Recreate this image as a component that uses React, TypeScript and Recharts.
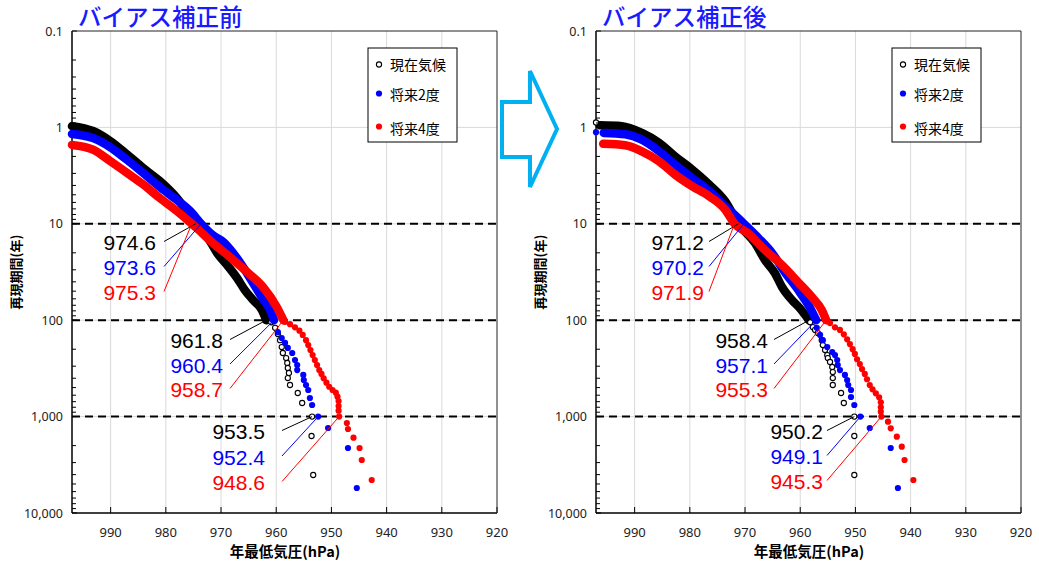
import React from 'react';
import { ScatterChart, Scatter, XAxis, YAxis, CartesianGrid } from 'recharts';

// [年最低気圧 hPa, 再現期間 年]
type Pt = [number, number];

const THRESHOLDS = [10, 100, 1000];
const X_DOMAIN: [number, number] = [920, 997];
const X_TICKS = [990, 980, 970, 960, 950, 940, 930, 920];
const GRID_X = [990, 980, 970, 960, 950, 940, 930];
const DECADES = [0.1, 1, 10, 100, 1000, 10000];

// ---- バイアス補正前 ----
const presentBandBefore: Pt[] = [
    [997.0, 0.97], [993.2, 1.09], [990.1, 1.38], [987.0, 1.91], [984.1, 2.64], [981.1, 3.6],
    [978.0, 5.4], [974.6, 10], [972.0, 15.1], [970.7, 20.1], [968.9, 26.8], [967.1, 36.5],
    [965.7, 48.6], [964.2, 61.7], [962.6, 78.4], [961.8, 100],
];
const presentDotsBefore: Pt[] = [
    [960.9, 105], [960.2, 120], [959.7, 139], [959.3, 161], [959.0, 190], [958.8, 219],
    [958.2, 247], [958.0, 278], [957.9, 313], [957.7, 353], [957.9, 398], [957.5, 470],
    [956.1, 569], [955.3, 723], [953.5, 1000], [953.6, 1589], [953.3, 4035],
];
const plus2BandBefore: Pt[] = [
    [997.0, 1.17], [993.2, 1.29], [990.1, 1.6], [987.0, 2.18], [984.1, 2.97], [981.1, 4.15],
    [978.0, 5.66], [975.6, 7.37], [973.6, 10], [971.5, 13.1], [969.6, 15.4], [967.8, 20.1],
    [966.0, 28.1], [964.2, 41.1], [962.4, 60.3], [961.1, 78.4], [960.4, 100],
];
const plus2DotsBefore: Pt[] = [
    [959.7, 133], [959.0, 153], [958.4, 172], [957.9, 194], [957.1, 219], [956.6, 259],
    [956.2, 292], [956.2, 329], [955.1, 370], [955.0, 417], [954.6, 470], [954.2, 530],
    [953.9, 641], [953.5, 758], [952.4, 1000], [950.6, 1313], [947.0, 2117], [945.4, 5505],
];
const plus4BandBefore: Pt[] = [
    [997.0, 1.52], [993.2, 1.7], [990.1, 2.23], [987.0, 2.97], [984.1, 3.91], [981.1, 5.4],
    [978.0, 7.37], [975.3, 10], [974.4, 11.1], [971.5, 15.8], [968.4, 22.1], [965.3, 31.6],
    [962.4, 45.2], [959.9, 73.0], [958.7, 100],
];
const plus4DotsBefore: Pt[] = [
    [958.4, 104], [957.5, 110], [956.6, 118.5], [955.8, 128.5], [955.2, 142], [954.6, 161],
    [954.2, 181], [953.8, 204], [953.4, 230], [953.0, 259], [952.6, 292], [952.2, 329],
    [951.8, 361], [951.4, 400], [950.9, 445], [950.4, 490], [949.8, 530], [949.2, 565],
    [948.9, 622], [948.7, 689], [948.7, 776], [948.7, 869], [948.6, 1000], [947.2, 1165],
    [947.0, 1345], [946.0, 1656], [944.9, 2117], [944.5, 2820], [942.7, 4547],
];

// ---- バイアス補正後 ----
const presentBandAfter: Pt[] = [
    [996.3, 0.95], [992.3, 0.97], [988.7, 1.14], [985.6, 1.44], [982.7, 1.99], [979.6, 2.73],
    [976.5, 3.91], [973.6, 5.83], [971.2, 10], [968.2, 15.8], [966.4, 23.7], [964.6, 32.4],
    [963.3, 45.2], [961.5, 61.7], [960.1, 74.7], [958.4, 100],
];
const presentDotsAfter: Pt[] = [
    [997.0, 0.89], [958.2, 105], [957.7, 118], [957.3, 126], [956.8, 136], [956.1, 161],
    [955.9, 181], [955.5, 204], [955.1, 230], [955.0, 247], [954.6, 271], [954.2, 306],
    [954.1, 345], [954.1, 398], [954.1, 470], [952.6, 569], [952.1, 723], [950.2, 1000],
    [950.2, 1589], [950.2, 4035],
];
const plus2BandAfter: Pt[] = [
    [995.6, 1.14], [991.7, 1.18], [988.7, 1.34], [985.6, 1.76], [982.7, 2.43], [979.6, 3.35],
    [976.5, 4.57], [973.6, 6.54], [970.2, 10], [967.6, 14.0], [965.1, 20.1], [962.8, 31.6],
    [960.1, 51.0], [958.2, 74.7], [957.1, 100],
];
const plus2DotsAfter: Pt[] = [
    [997.0, 1.12], [957.0, 120], [956.4, 142], [955.9, 161], [955.1, 190], [954.2, 214],
    [953.7, 230], [953.3, 259], [953.2, 292], [952.8, 329], [951.9, 370], [951.5, 417],
    [951.3, 470], [950.8, 530], [950.8, 626], [950.2, 758], [949.1, 1000], [947.4, 1313],
    [943.6, 2117], [942.3, 5505],
];
const plus4BandAfter: Pt[] = [
    [995.7, 1.48], [991.7, 1.53], [988.7, 1.77], [985.6, 2.24], [982.7, 3.08], [979.6, 4.07],
    [976.5, 5.17], [973.6, 7.11], [971.9, 10], [969.5, 12.5], [966.4, 18.7], [963.3, 26.8],
    [960.4, 40.2], [957.9, 57.4], [956.1, 78.4], [955.3, 100],
];
const plus4DotsAfter: Pt[] = [
    [954.6, 107], [953.7, 118.5], [952.8, 126], [952.1, 140], [951.5, 158], [951.0, 177],
    [950.5, 200], [950.1, 224], [949.7, 254], [949.2, 285], [948.8, 321], [948.3, 361],
    [947.9, 410], [947.4, 470], [946.9, 521], [946.3, 573], [945.7, 631], [945.4, 711],
    [945.4, 801], [945.4, 890], [945.3, 1000], [944.1, 1130], [943.6, 1323], [942.5, 1616],
    [941.6, 2053], [941.1, 2820], [939.5, 4547],
];

// 10年・100年・1000年の気圧 (現在気候, 将来2度, 将来4度)
const levelsBefore = [[974.6, 961.8, 953.5], [973.6, 960.4, 952.4], [975.3, 958.7, 948.6]];
const levelsAfter = [[971.2, 958.4, 950.2], [970.2, 957.1, 949.1], [971.9, 955.3, 945.3]];

const SERIES = [
    { key: 'present', name: '現在気候', color: '#000000', hollow: true },
    { key: 'plus2', name: '将来2度', color: '#0000ff', hollow: false },
    { key: 'plus4', name: '将来4度', color: '#ff0000', hollow: false },
];

const Y_TICKS = DECADES.flatMap((d, i) =>
    i < DECADES.length - 1 ? [1, 2, 3, 4, 5, 6, 7, 8, 9].map(k => +(d * k).toPrecision(3)) : [d]
);

const JP_FONT = '"Noto Sans CJK JP", "Noto Sans", sans-serif';
const NUM_FONT = '"Noto Sans", "DejaVu Sans", sans-serif';

const rows = (pts: Pt[]) => pts.map(([p, t]) => ({ p, t }));
const emptyShape = () => <g />;

const isDecade = (v: number) => Math.abs(Math.log10(v) - Math.round(Math.log10(v))) < 1e-6;

const YTick = (props: any) => {
    const { x, y, payload } = props;
    const v = payload.value;
    const major = isDecade(v);
    return (
        <g>
            <line x1={x} y1={y} x2={x + (major ? 5 : 4)} y2={y} stroke="#000" strokeWidth={1} />
            {major && (
                <text x={x - 9} y={y + 4.5} textAnchor="end" fontSize={12.5} fontFamily={NUM_FONT} fill="#222">
                    {v.toLocaleString('en-US')}
                </text>
            )}
        </g>
    );
};

const XTick = (props: any) => {
    const { x, y, payload } = props;
    return (
        <g>
            <line x1={x} y1={y} x2={x} y2={y - 6} stroke="#000" strokeWidth={1} />
            <text x={x} y={y + 24} textAnchor="middle" fontSize={13} fontFamily={NUM_FONT} fill="#222">
                {payload.value}
            </text>
        </g>
    );
};

type LabelSlot = { right: number; base: number; step: number; gap: number };

const Panel = ({ width, bands, dots, levels, slots }: {
    width: number; bands: Pt[][]; dots: Pt[][]; levels: number[][]; slots: LabelSlot[];
}) => {
    const annotRows = SERIES.flatMap((_, si) => THRESHOLDS.map((t, gi) => ({ p: levels[si][gi], t, si, gi })));

    const annotShape = (props: any) => {
        const { cx, cy, payload } = props;
        const slot = slots[payload.gi];
        const color = SERIES[payload.si].color;
        const ty = slot.base + payload.si * slot.step;
        return (
            <g>
                <line x1={slot.right + slot.gap} y1={ty - 8.5} x2={cx} y2={cy} stroke={color} strokeWidth={1} />
                <text x={slot.right} y={ty} textAnchor="end" fontSize={21}
                    fontFamily='"Liberation Sans", Arial, sans-serif' fill={color}>
                    {payload.p.toFixed(1)}
                </text>
            </g>
        );
    };

    // dense part of each series drawn as a thick band, sparse tail as single markers
    const seriesEls = SERIES.flatMap((s, i) => [
        <Scatter
            key={`${s.key}-band`}
            data={rows(bands[i])}
            fill={s.color}
            lineType="joint"
            lineJointType="monotoneX"
            line={{ stroke: s.color, strokeWidth: 8.5, strokeLinecap: 'round', strokeLinejoin: 'round' }}
            shape={emptyShape}
            isAnimationActive={false}
        />,
        <Scatter
            key={`${s.key}-dots`}
            data={rows(dots[i])}
            fill={s.color}
            shape={(p: any) => (
                <circle
                    cx={p.cx}
                    cy={p.cy}
                    r={s.hollow ? 2.6 : 3.1}
                    fill={s.hollow ? '#fff' : s.color}
                    stroke={s.color}
                    strokeWidth={s.hollow ? 1.1 : 0}
                />
            )}
            isAnimationActive={false}
        />,
    ]);

    return (
        <ScatterChart width={width} height={562} margin={{ top: 31, left: 32, right: width - 497, bottom: 19 }}>
            <CartesianGrid stroke="#d9d9d9" verticalValues={GRID_X} horizontalValues={[1, 10, 100, 1000]} />
            <XAxis
                type="number"
                dataKey="p"
                domain={X_DOMAIN}
                reversed
                ticks={X_TICKS}
                interval={0}
                height={30}
                tickSize={0}
                tickMargin={0}
                tickLine={false}
                tick={XTick}
                axisLine={{ stroke: '#000', strokeWidth: 1.5 }}
            />
            <YAxis
                type="number"
                dataKey="t"
                scale="log"
                domain={[0.1, 10000]}
                reversed
                ticks={Y_TICKS}
                interval={0}
                width={40}
                tickSize={0}
                tickMargin={0}
                tickLine={false}
                tick={YTick}
                axisLine={{ stroke: '#000', strokeWidth: 1.5 }}
            />
            {THRESHOLDS.map(t => (
                <Scatter
                    key={`th-${t}`}
                    data={[{ p: X_DOMAIN[1], t }, { p: X_DOMAIN[0], t }]}
                    line={{ stroke: '#000', strokeWidth: 2, strokeDasharray: '8 5' }}
                    shape={emptyShape}
                    isAnimationActive={false}
                />
            ))}
            {seriesEls}
            <Scatter data={annotRows} shape={annotShape} isAnimationActive={false} />
        </ScatterChart>
    );
};

const Legend = ({ x }: { x: number }) => (
    <g>
        <rect x={x} y={48} width={89} height={94} fill="#fff" stroke="#000" strokeWidth={1} />
        <circle cx={x + 11} cy={64.5} r={2.6} fill="#fff" stroke="#000" strokeWidth={1.1} />
        <circle cx={x + 11} cy={93.5} r={3.1} fill="#0000ff" />
        <circle cx={x + 11} cy={126.5} r={3.1} fill="#ff0000" />
        {SERIES.map((s, i) => (
            <text key={s.key} x={x + 22} y={[70, 100, 134][i]} fontSize={14} fontFamily={JP_FONT} fill="#000">
                {s.name}
            </text>
        ))}
    </g>
);

const PanelText = ({ ox, title }: { ox: number; title: string }) => (
    <g>
        <text x={ox + 78} y={26} fontSize={23.5} fontWeight={500} fontFamily={JP_FONT} fill="#1a1aff">{title}</text>
        <text transform={`translate(${ox + 21},272) rotate(-90)`} textAnchor="middle" fontSize={13}
            fontWeight="bold" fontFamily={JP_FONT} fill="#000">再現期間(年)</text>
        <text x={ox + 285} y={557} textAnchor="middle" fontSize={14.5} fontWeight="bold"
            fontFamily={JP_FONT} fill="#000">年最低気圧(hPa)</text>
        {/* top and right edges of the plot frame */}
        <polyline points={`${ox + 72},31 ${ox + 497},31 ${ox + 497},513`} fill="none" stroke="#222" strokeWidth={1} />
        <Legend x={ox + 368} />
    </g>
);

const slotsBefore: LabelSlot[] = [
    { right: 156, base: 250, step: 25, gap: 8 },
    { right: 223, base: 348, step: 24.5, gap: 7 },
    { right: 265, base: 439, step: 25.5, gap: 17 },
];
const slotsAfter: LabelSlot[] = [
    { right: 180, base: 250, step: 25, gap: 5 },
    { right: 244, base: 348, step: 24.5, gap: 6 },
    { right: 299, base: 439, step: 25, gap: 4 },
];

export default function App() {
    return (
        <div style={{ position: 'relative', width: 1039, height: 562, overflow: 'hidden', background: '#fff' }}>
            <style>{'body{margin:0}'}</style>
            <div style={{ position: 'absolute', left: 0, top: 0 }}>
                <Panel
                    width={520}
                    bands={[presentBandBefore, plus2BandBefore, plus4BandBefore]}
                    dots={[presentDotsBefore, plus2DotsBefore, plus4DotsBefore]}
                    levels={levelsBefore}
                    slots={slotsBefore}
                />
            </div>
            <div style={{ position: 'absolute', left: 524, top: 0 }}>
                <Panel
                    width={515}
                    bands={[presentBandAfter, plus2BandAfter, plus4BandAfter]}
                    dots={[presentDotsAfter, plus2DotsAfter, plus4DotsAfter]}
                    levels={levelsAfter}
                    slots={slotsAfter}
                />
            </div>
            <svg width={1039} height={562} style={{ position: 'absolute', left: 0, top: 0, pointerEvents: 'none' }}>
                <PanelText ox={0} title="バイアス補正前" />
                <PanelText ox={524} title="バイアス補正後" />
                <polygon
                    points="502,102 530,102 530,71 557,129 530,187 530,157 502,157"
                    fill="#fff"
                    stroke="#00b0f0"
                    strokeWidth={4}
                    strokeLinejoin="miter"
                />
            </svg>
        </div>
    );
}
